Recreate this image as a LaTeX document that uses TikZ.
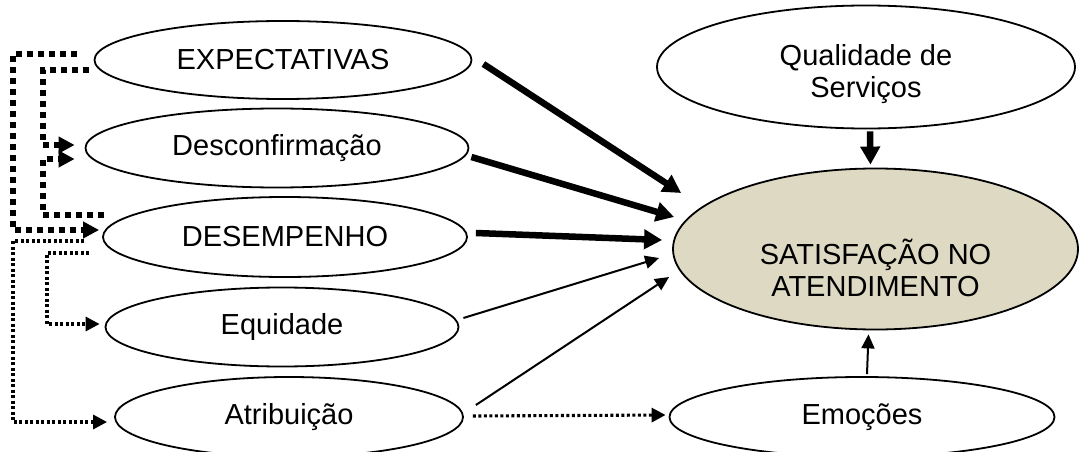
\documentclass[tikz,border=0pt]{standalone}
\usepackage{fontspec}
\setmainfont{Liberation Sans}
\usetikzlibrary{arrows.meta,calc,shapes.geometric}

\begin{document}
\begin{tikzpicture}[x=1pt,y=-1pt,
  every node/.style={font=\fontsize{29}{32}\selectfont},
  oval/.style={ellipse, draw, line width=1.8pt, inner sep=0pt, align=center},
  bigflow/.style={line width=6.5pt, -{Triangle[length=18pt,width=19pt]}},
  flow/.style={line width=2pt, -{Triangle[length=14pt,width=13pt]}},
  bigdots/.style={line width=6pt, dash pattern=on 6pt off 5pt, -{Triangle[length=16pt,width=16pt]}},
  finedots/.style={line width=3.1pt, dash pattern=on 3pt off 2.5pt, -{Triangle[length=14pt,width=14pt]}},
]
\useasboundingbox (0,0) rectangle (1085,452);

% left column of constructs
\node[oval, minimum width=377pt, minimum height=78pt] (exp) at (283,60) {EXPECTATIVAS};
\node[oval, minimum width=383pt, minimum height=79pt] (des) at (277,148) {Desconfirmação};
\node[oval, minimum width=364pt, minimum height=80pt] (dsp) at (285,237) {DESEMPENHO};
\node[oval, minimum width=353pt, minimum height=79pt] (equ) at (282,327) {Equidade};
\node[oval, minimum width=348pt, minimum height=80pt] (atr) at (289,417) {Atribuição};

% right column
\node[oval, minimum width=418pt, minimum height=123pt,
      label={[align=center, yshift=-7pt]center:Qualidade de\\Serviços}] (qua) at (866,67) {};
\node[oval, fill={rgb,255:red,221;green,217;blue,195}, minimum width=405pt, minimum height=161pt,
      label={[align=center, yshift=-19pt]center:SATISFAÇÃO NO\\ATENDIMENTO}] (sat) at (875.5,249) {};
\node[oval, minimum width=385pt, minimum height=80pt] (emo) at (862,417) {Emoções};

% solid influences on satisfaction
\draw[bigflow] ($(exp.east)+(11,4)$) -- ($(sat.west)+(9,-56)$);
\draw[bigflow] ($(des.east)+(2,9)$) -- ($(sat.west)+(2,-32)$);
\draw[bigflow] ($(dsp.east)+(8,-4)$) -- ($(sat.west)+(-10,-9)$);
\draw[flow] ($(equ.east)+(4,-9)$) -- ($(sat.west)+(-13,9)$);
\draw[flow] ($(atr.east)+(12,-12)$) -- ($(sat.west)+(-3,28)$);
\draw[bigflow] ($(qua.south)+(4,2)$) -- ($(sat.north)+(-5,-3)$);
\draw[flow] ($(emo.north)+(5,-2)$) -- ($(sat.south)+(-7,4)$);

% vertical rails of the dotted links
\coordinate (outer) at (13,0);
\coordinate (inner) at (43,0);
\coordinate (mid) at (47,0);

% heavy dotted links
\coordinate (e1) at ($(exp.west)+(-17,-6)$);
\coordinate (t1) at ($(dsp.west)+(-3,-7)$);
\draw[bigdots] (e1) -| (outer |- t1) -- (t1);

\coordinate (e2) at ($(exp.west)+(-5,10)$);
\coordinate (t2) at ($(des.west)+(-10,-3)$);
\draw[bigdots] (e2) -| (inner |- t2) -- (t2);

\coordinate (e3) at ($(dsp.west)+(2,-22)$);
\coordinate (t3) at ($(des.west)+(-10,11)$);
\draw[bigdots] (e3) -| (inner |- t3) -- (t3);

% fine dotted links
\coordinate (e4) at ($(dsp.west)+(-18,4)$);
\coordinate (t4) at ($(atr.west)+(-7,5)$);
\draw[finedots] (e4) -| (outer |- t4) -- (t4);

\coordinate (e5) at ($(dsp.west)+(-13,16)$);
\coordinate (t5) at ($(equ.west)+(-5,-3)$);
\draw[finedots] (e5) -| (mid |- t5) -- (t5);

\draw[finedots] ($(atr.east)+(9,-1)$) -- ($(emo.west)+(-3,-2)$);
\end{tikzpicture}
\end{document}
